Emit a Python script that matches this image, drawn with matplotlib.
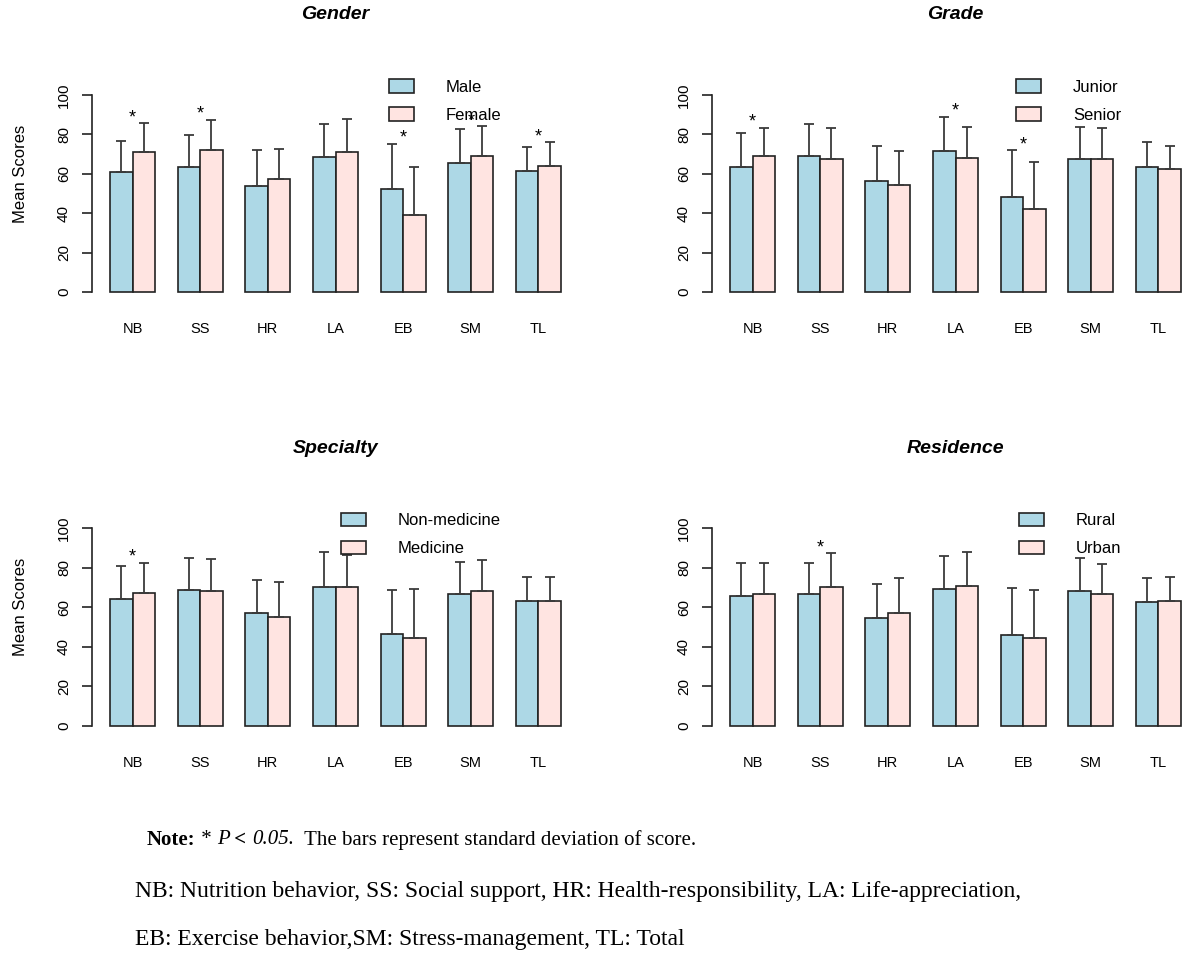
import matplotlib
matplotlib.use("Agg")
import matplotlib.pyplot as plt
from matplotlib.patches import Patch
import numpy as np

#--------------------------------- Data ---------------------
subscales = ["NB", "SS", "HR", "LA", "EB", "SM", "TL"]

gender_groups = ["Male", "Female"]
gender_mean_1 = [60.7, 63.5, 53.7, 68.4, 52.4, 65.3, 61.4]
gender_sd_1 = [15.9, 16.4, 18.6, 16.9, 22.9, 17.4, 12.4]
gender_mean_2 = [71.1, 72.3, 57.3, 71.1, 39.1, 69.0, 64.1]
gender_sd_2 = [14.5, 15.2, 15.5, 16.6, 24.2, 15.1, 11.9]
gender_sig = [1, 1, 0, 0, 1, 1, 1]

grade_groups = ["Junior", "Senior"]
grade_mean_1 = [63.3, 68.9, 56.4, 71.8, 48.3, 67.6, 63.3]
grade_sd_1 = [17.3, 16.6, 17.9, 17.1, 23.7, 16.4, 12.7]
grade_mean_2 = [68.9, 67.6, 54.4, 68.2, 41.9, 67.6, 62.2]
grade_sd_2 = [14.4, 15.7, 17.4, 15.8, 24.1, 15.7, 12.1]
grade_sig = [1, 0, 0, 1, 1, 0, 0]

specialty_groups = ["Non-medicine", "Medicine"]
specialty_mean_1 = [64.2, 68.8, 57.0, 70.1, 46.5, 66.7, 63.2]
specialty_sd_1 = [16.8, 16.4, 16.7, 17.8, 22.3, 16.5, 12.2]
specialty_mean_2 = [67.2, 68.1, 55.0, 70.1, 44.5, 68.1, 63.2]
specialty_sd_2 = [15.3, 16.3, 17.8, 16.5, 24.9, 15.9, 12.2]
specialty_sig = [1, 0, 0, 0, 0, 0, 0]

residence_groups = ["Rural", "Urban"]
residence_mean_1 = [65.9, 66.7, 54.8, 69.4, 45.8, 68.1, 62.6]
residence_sd_1 = [16.6, 15.8, 17.0, 16.5, 24.1, 17.1, 12.1]
residence_mean_2 = [66.7, 70.1, 56.9, 70.6, 44.5, 66.7, 63.2]
residence_sd_2 = [15.8, 17.3, 17.8, 17.5, 24.3, 15.1, 12.4]
residence_sig = [0, 1, 0, 0, 0, 0, 0]

yticks = [0, 20, 40, 60, 80, 100]

#--------------------------------- Style ---------------------
plt.rcParams['font.family'] = ['Liberation Sans', 'DejaVu Sans']

col_1 = "#ADD8E6"   # lightblue
col_2 = "#FFE4E1"   # mistyrose
edge = "#222222"
err_col = "#3a3a3a"

W, H = 1200, 964
fig = plt.figure(figsize=(W / 100, H / 100), dpi=100)


def px_axes(left, top, width, height):
    return fig.add_axes([left / W, 1 - (top + height) / H, width / W, height / H])


# ------------------- one panel -----------
def draw_panel(left, top, title, groups, m1, s1, m2, s2, sig, ylab):
    ax = px_axes(left, top, 487, 255.4)
    n = len(subscales)
    x1 = 1.5 + 3 * np.arange(n)
    x2 = x1 + 1

    ax.bar(x1, m1, width=1, color=col_1, edgecolor=edge, linewidth=1.2, zorder=2)
    ax.bar(x2, m2, width=1, color=col_2, edgecolor=edge, linewidth=1.2, zorder=2)
    zeros = np.zeros(n)
    ax.errorbar(x1, m1, yerr=[zeros, s1], fmt='none', ecolor=err_col,
                elinewidth=1.3, capsize=3.6, capthick=1.3, zorder=3)
    ax.errorbar(x2, m2, yerr=[zeros, s2], fmt='none', ecolor=err_col,
                elinewidth=1.3, capsize=3.6, capthick=1.3, zorder=3)

    tops = np.maximum(np.array(m1) + np.array(s1), np.array(m2) + np.array(s2))
    for i in range(n):
        if sig[i]:
            ax.text(x1[i] + 0.5, tops[i] + 2.8, "*", ha='center', va='center',
                    fontsize=13, zorder=4)

    ax.set_xlim(0.2, 21.8)
    ax.set_ylim(-4.8, 124.8)
    for s in ['top', 'right', 'bottom']:
        ax.spines[s].set_visible(False)
    ax.spines['left'].set_bounds(0, 100)
    ax.spines['left'].set_linewidth(1.2)
    ax.spines['left'].set_color(edge)

    ax.set_xticks(x1 + 0.5, subscales, fontsize=10.5)
    ax.tick_params(axis='x', length=0, pad=15)
    ax.set_yticks(yticks, [str(t) for t in yticks], rotation=90,
                  ha='center', va='center', fontsize=11)
    ax.tick_params(axis='y', length=7.2, width=1.2, color=edge, pad=13)

    if ylab:
        ax.set_ylabel("Mean Scores", fontsize=12)
        ax.yaxis.set_label_coords(-71 / 487, 0.5)
        ax.yaxis.label.set_va('center')

    ax.text(0.5, 1.122, title, transform=ax.transAxes, ha='center', va='center',
            fontsize=14, fontweight='bold', fontstyle='italic')

    handles = [Patch(facecolor=col_1, edgecolor=edge, linewidth=1.2),
               Patch(facecolor=col_2, edgecolor=edge, linewidth=1.2)]
    ax.legend(handles, groups, loc='upper right', bbox_to_anchor=(0.84, 0.871),
              frameon=False, borderpad=0, borderaxespad=0, handlelength=1.5,
              handleheight=0.9, handletextpad=1.9, labelspacing=0.74, fontsize=12)
    return ax


draw_panel(92, 46.1, "Gender", gender_groups, gender_mean_1, gender_sd_1,
           gender_mean_2, gender_sd_2, gender_sig, True)
draw_panel(712, 46.1, "Grade", grade_groups, grade_mean_1, grade_sd_1,
           grade_mean_2, grade_sd_2, grade_sig, False)
draw_panel(92, 479.6, "Specialty", specialty_groups, specialty_mean_1, specialty_sd_1,
           specialty_mean_2, specialty_sd_2, specialty_sig, True)
draw_panel(712, 479.6, "Residence", residence_groups, residence_mean_1, residence_sd_1,
           residence_mean_2, residence_sd_2, residence_sig, False)

# ------------------- notes -----------
# first line is built from pieces (bold / italic parts)
note_pieces = [("Note:", 'bold', 'normal'), (" * ", 'normal', 'normal'),
               ("P", 'normal', 'italic'), (" < ", 'bold', 'normal'),
               ("0.05.", 'normal', 'italic'),
               ("  The bars represent standard deviation of score.", 'normal', 'normal')]

renderer = fig.canvas.get_renderer()
x_px = 147
for txt, wt, st in note_pieces:
    t = fig.text(x_px / W, 1 - 840 / H, txt, family='Liberation Serif', fontsize=15,
                 fontweight=wt, fontstyle=st, va='center', ha='left')
    bb = t.get_window_extent(renderer)
    x_px += bb.width

fig.text(135 / W, 1 - 891 / H,
         "NB: Nutrition behavior, SS: Social support, HR: Health-responsibility, LA: Life-appreciation,",
         family='Liberation Serif', fontsize=17, va='center', ha='left')
fig.text(135 / W, 1 - 940 / H,
         "EB: Exercise behavior,SM: Stress-management, TL: Total",
         family='Liberation Serif', fontsize=17, va='center', ha='left')

fig.savefig("out.png", dpi=100)
